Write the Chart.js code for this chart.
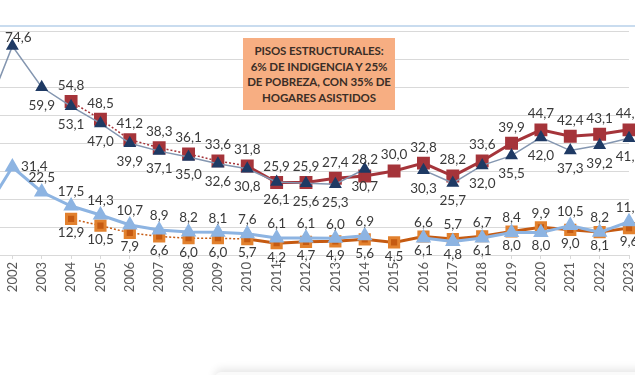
<!DOCTYPE html>
<html>
<head>
<meta charset="utf-8">
<script src="https://cdn.jsdelivr.net/npm/chart.js@4.4.1/dist/chart.umd.min.js"></script>
<style>
  html, body { margin: 0; padding: 0; background: #fff; overflow: hidden; }
  body { width: 635px; height: 375px; position: relative; font-family: Lato, sans-serif; }
  #topline { position: absolute; left: 0; top: 25px; width: 635px; border-top: 2px solid #c9dcef; }
  #wrap { position: absolute; left: -40px; top: 0; width: 700px; height: 300px; }
  #note {
    position: absolute; left: 243px; top: 38px; width: 152px; height: 72px;
    background: #f7ae82; color: #3b2e27; font: bold 11.5px Lato, sans-serif;
    line-height: 15.5px; text-align: center; white-space: nowrap; letter-spacing: -0.1px;
    display: flex; align-items: center; justify-content: center;
  }
  #shadow {
    position: absolute; left: 215px; top: 372px; width: 440px; height: 30px;
    background: #fafafa; border-radius: 6px; box-shadow: 0 -3px 8px rgba(0,0,0,0.10);
  }
</style>
</head>
<body>
<div id="topline"></div>
<div id="wrap"><canvas id="chart" width="700" height="300"></canvas></div>
<div id="note">PISOS ESTRUCTURALES:<br>6% DE INDIGENCIA Y 25%<br>DE POBREZA, CON 35% DE<br>HOGARES ASISTIDOS</div>
<div id="shadow"></div>
<script>
const years = ['2001', '2002', '2003', '2004', '2005', '2006', '2007', '2008', '2009', '2010', '2011', '2012',
  '2013', '2014', '2015', '2016', '2017', '2018', '2019', '2020', '2021', '2022', '2023'];

// pobreza (triangulos azul oscuro)
const pobrezaIndec = [48.0, 74.6, 59.9, 53.1, 47.0, 39.9, 37.1, 35.0, 32.6, 30.8, 26.1, 25.6,
  25.3, 30.7, null, 30.3, 25.7, 32.0, 35.5, 42.0, 37.3, 39.2, 41.7];
// pobreza (cuadrados rojos)
const pobrezaUca = [null, null, null, 54.8, 48.5, 41.2, 38.3, 36.1, 33.6, 31.8, 25.9, 25.9,
  27.4, 28.2, 30.0, 32.8, 28.2, 33.6, 39.9, 44.7, 42.4, 43.1, 44.7];
// indigencia (triangulos celestes)
const indigenciaIndec = [14.5, 31.4, 22.5, 17.5, 14.3, 10.7, 8.9, 8.2, 8.1, 7.6, 6.1, 6.1,
  6.0, 6.9, null, 6.1, 4.8, 6.1, 8.0, 8.0, 10.5, 8.1, 11.9];
// indigencia (cuadrados naranjas)
const indigenciaUca = [null, null, null, 12.9, 10.5, 7.9, 6.6, 6.0, 6.0, 5.7, 4.2, 4.7,
  4.9, 5.6, 4.5, 6.6, 5.7, 6.7, 8.4, 9.9, 9.0, 8.2, 9.6];

const yTicks = [0, 10, 20, 30, 40, 50, 60, 70, 80];

// the older part of the two square series is drawn dotted
const dottedUntil = years.indexOf('2010');
const dotted = (w) => ({
  borderDash: ctx => ctx.p1DataIndex <= dottedUntil ? [2, 2] : undefined,
  borderWidth: ctx => ctx.p1DataIndex <= dottedUntil ? 1.5 : w
});

const fmt = v => v.toFixed(1).replace('.', ',');

const valueLabels = {
  id: 'valueLabels',
  afterDatasetsDraw(chart) {
    const ctx = chart.ctx;
    ctx.save();
    ctx.font = '13.5px Lato';
    ctx.fillStyle = '#3a3a3a';
    ctx.textAlign = 'center';
    ctx.textBaseline = 'middle';
    chart.data.datasets.forEach((ds, di) => {
      const meta = chart.getDatasetMeta(di);
      const vals = ds.data.filter(v => v != null);
      const maxVal = Math.max(...vals);
      meta.data.forEach((pt, i) => {
        const v = ds.data[i];
        if (v == null) return;
        let dx = 0, dy;
        let above;
        if (ds.labelSide === 'compare') {
          const p = ds.partner[i];
          above = p == null ? ds.labelDefault === 'top' : v > p;
        } else {
          above = ds.labelSide === 'top';
        }
        dy = above ? -ds.gapTop : ds.gapBottom;
        if (v === maxVal && ds.maxLabel) { dx = ds.maxLabel[0]; dy = ds.maxLabel[1]; }
        ctx.fillText(fmt(v), pt.x + dx, pt.y + dy);
      });
    });
    ctx.restore();
  }
};

new Chart(document.getElementById('chart'), {
  type: 'line',
  data: {
    labels: years,
    datasets: [
      {
        data: pobrezaIndec,
        borderColor: '#8496b0', borderWidth: 1.5,
        pointStyle: 'triangle', pointRadius: 6, pointBackgroundColor: '#1f3a64', pointBorderColor: '#1f3a64',
        labelSide: 'bottom', gapTop: 16, gapBottom: 18, maxLabel: [6, -8]
      },
      {
        data: indigenciaIndec,
        borderColor: '#8db4e2', borderWidth: 3,
        pointStyle: 'triangle', pointRadius: 6, pointBackgroundColor: '#8db4e2', pointBorderColor: '#8db4e2',
        labelSide: 'compare', labelDefault: 'top', partner: indigenciaUca, gapTop: 14, gapBottom: 13, maxLabel: [22, 0]
      },
      {
        data: pobrezaUca,
        borderColor: '#a5343a', borderWidth: 3,
        segment: dotted(3),
        pointStyle: 'rect', pointRadius: 7, pointBackgroundColor: '#a5343a', pointBorderColor: '#a5343a',
        labelSide: 'top', gapTop: 16, gapBottom: 18
      },
      {
        data: indigenciaUca,
        borderColor: '#c55a11', borderWidth: 3,
        segment: dotted(3),
        pointStyle: 'rect', pointRadius: 6.5, pointBackgroundColor: '#c55a11', pointBorderColor: '#e2812e',
        labelSide: 'compare', labelDefault: 'bottom', partner: indigenciaIndec, gapTop: 14, gapBottom: 14
      }
    ]
  },
  options: {
    responsive: false,
    animation: false,
    layout: { padding: { left: 23, right: 31, top: 31, bottom: 0 } },
    plugins: { legend: { display: false }, tooltip: { enabled: false } },
    scales: {
      x: {
        offset: false,
        afterFit(scale) { scale.height = 45; },
        grid: { drawOnChartArea: false, tickLength: 4, color: '#d9d9d9' },
        border: { color: '#d9d9d9' },
        ticks: { autoSkip: false, minRotation: 90, maxRotation: 90, padding: 3, color: '#595959', font: { family: 'Lato', size: 13 } }
      },
      y: {
        min: yTicks[0], max: yTicks[yTicks.length - 1],
        afterFit(scale) { scale.width = 0; },
        afterBuildTicks(scale) { scale.ticks = yTicks.map(v => ({ value: v })); },
        ticks: { display: false },
        grid: { color: '#d9d9d9', drawTicks: false },
        border: { display: false }
      }
    }
  },
  plugins: [valueLabels]
});
</script>
</body>
</html>
